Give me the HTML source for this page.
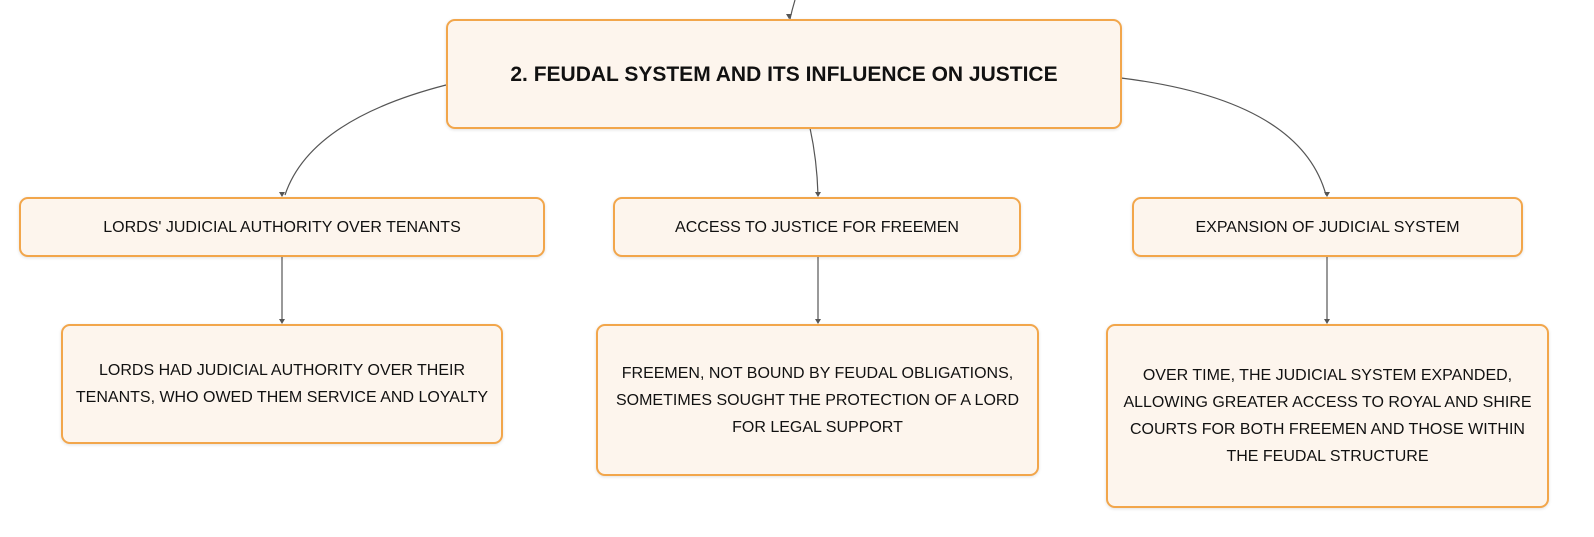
<!DOCTYPE html>
<html><head><style>
body{margin:0;width:1594px;height:537px;background:#fff;position:relative;overflow:hidden;font-family:"Liberation Sans",sans-serif;}
.b{position:absolute;box-sizing:border-box;background:#fdf5ed;border:2.5px solid #f2a64b;border-radius:9px;display:flex;align-items:center;justify-content:center;text-align:center;color:#111;font-size:16px;line-height:27px;box-shadow:0 1px 3px rgba(0,0,0,.12);}
svg{position:absolute;left:0;top:0;}
</style></head><body>
<svg width="1594" height="537">
<g fill="none" stroke="#555" stroke-width="1.2">
<path d="M795 0 Q792 10 790 19"/>
<path d="M446 85 Q310 120 285 195"/>
<path d="M810 128 Q817 160 818 195"/>
<path d="M1121 78 Q1300 100 1326 195"/>
<path d="M282 256 V322"/>
<path d="M818 256 V322"/>
<path d="M1327 256 V322"/>
</g>
<g fill="#555">
<path d="M282 197 l-3 -5 h6z"/><path d="M818 197 l-3 -5 h6z"/><path d="M1327 197 l-3 -5 h6z"/>
<path d="M789 19 l-3 -5 h6z"/>
<path d="M282 324 l-3 -5 h6z"/><path d="M818 324 l-3 -5 h6z"/><path d="M1327 324 l-3 -5 h6z"/>
</g>
</svg>
<div class="b" style="left:446px;top:19px;width:676px;height:110px;font-weight:bold;font-size:21px;">2. FEUDAL SYSTEM AND ITS INFLUENCE ON JUSTICE</div>
<div class="b" style="left:19px;top:197px;width:526px;height:60px;">LORDS' JUDICIAL AUTHORITY OVER TENANTS</div>
<div class="b" style="left:613px;top:197px;width:408px;height:60px;">ACCESS TO JUSTICE FOR FREEMEN</div>
<div class="b" style="left:1132px;top:197px;width:391px;height:60px;">EXPANSION OF JUDICIAL SYSTEM</div>
<div class="b" style="left:61px;top:324px;width:442px;height:120px;">LORDS HAD JUDICIAL AUTHORITY OVER THEIR<br>TENANTS, WHO OWED THEM SERVICE AND LOYALTY</div>
<div class="b" style="left:596px;top:324px;width:443px;height:152px;">FREEMEN, NOT BOUND BY FEUDAL OBLIGATIONS,<br>SOMETIMES SOUGHT THE PROTECTION OF A LORD<br>FOR LEGAL SUPPORT</div>
<div class="b" style="left:1106px;top:324px;width:443px;height:184px;">OVER TIME, THE JUDICIAL SYSTEM EXPANDED,<br>ALLOWING GREATER ACCESS TO ROYAL AND SHIRE<br>COURTS FOR BOTH FREEMEN AND THOSE WITHIN<br>THE FEUDAL STRUCTURE</div>
</body></html>
